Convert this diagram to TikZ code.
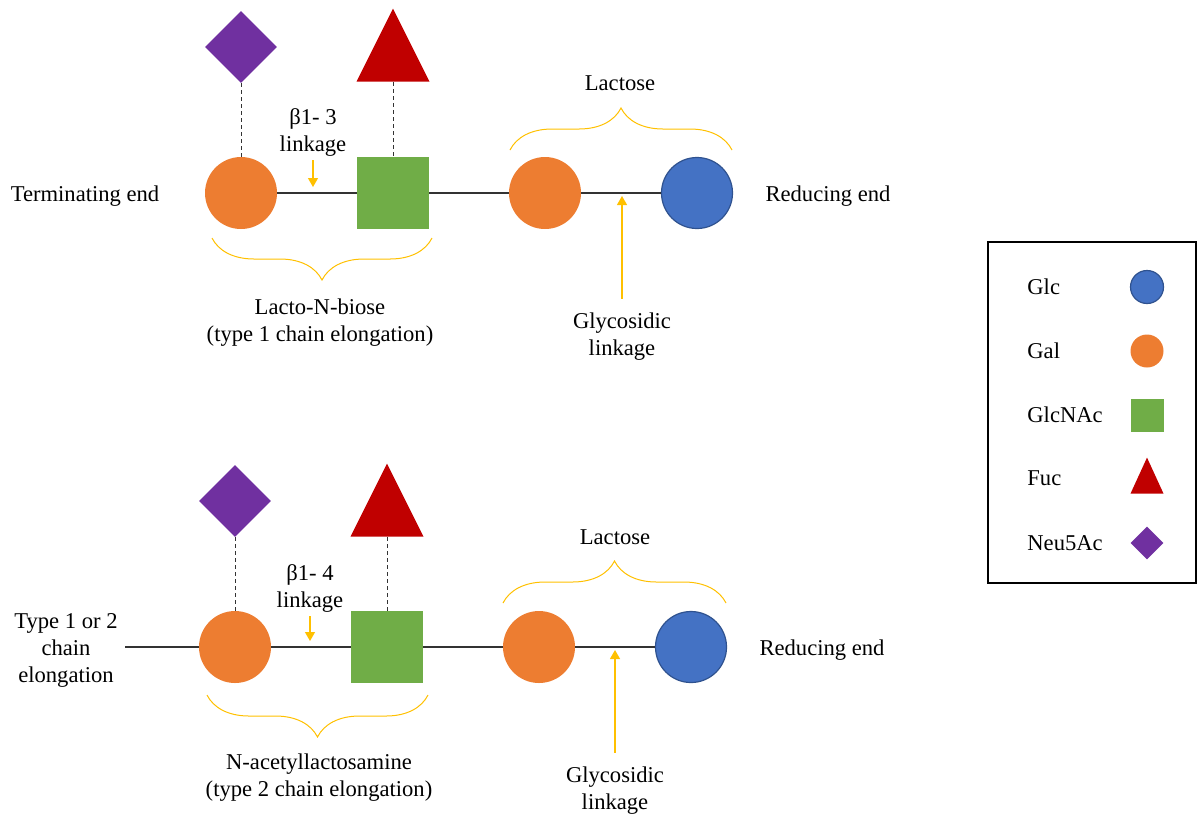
\documentclass[tikz,border=0pt]{standalone}
\usepackage{fontspec}
\setmainfont{Liberation Serif}
\usetikzlibrary{positioning, shapes.geometric, arrows.meta, decorations.pathreplacing}

\definecolor{galorange}{HTML}{ED7D31}
\definecolor{glcblue}{HTML}{4472C4}
\definecolor{glcedge}{HTML}{2F528F}
\definecolor{nacgreen}{HTML}{70AD47}
\definecolor{fucred}{HTML}{C00000}
\definecolor{neupurple}{HTML}{7030A0}
\definecolor{linkyellow}{HTML}{FFC000}

\tikzset{
  gal/.style={circle, fill=galorange, minimum size=36pt, inner sep=0pt},
  glc/.style={circle, fill=glcblue, draw=glcedge, line width=0.6pt, minimum size=35.5pt, inner sep=0pt},
  glcnac/.style={rectangle, fill=nacgreen, minimum size=36pt, inner sep=0pt},
  fuc/.style={isosceles triangle, isosceles triangle stretches, shape border rotate=90,
    fill=fucred, minimum width=36.5pt, minimum height=36.5pt, inner sep=0pt},
  neu/.style={diamond, fill=neupurple, minimum size=36pt, inner sep=0pt},
  key/.style={minimum size=16.5pt},
  bond/.style={draw=black!80, line width=0.6pt},
  subst/.style={draw=black!80, dash pattern=on 2pt off 1.5pt, line width=0.5pt},
  pointer/.style={draw=linkyellow, line width=0.6pt, -{Triangle[width=5pt,length=4.5pt]}},
  curly/.style={draw=linkyellow, line width=0.5pt, decorate, decoration={brace, amplitude=21pt}},
  lbl/.style={align=center, font=\fontsize{11.3}{13.5}\selectfont, inner sep=0pt},
}

\begin{document}
\begin{tikzpicture}[x=0.5pt, y=-0.5pt, node distance=76pt, on grid]
  \useasboundingbox (0,0) rectangle (1198,816);

  % type 1 chain
  \node[gal] (gal1) at (241,193) {};
  \node[glcnac] (nac1) [right=of gal1] {};
  \node[gal] (gal2) [right=of nac1] {};
  \node[glc] (glc1) [right=of gal2] {};
  \node[neu] (neu1) [above=73pt of gal1] {};
  \node[fuc, anchor=lower side] (fuc1) at (393,82) {};
  \path[bond] (gal1) -- (nac1) (nac1) -- (gal2) (gal2) -- (glc1);
  \path[subst] (neu1) -- (gal1) (fuc1.lower side) -- (nac1);

  \node[lbl] (term) at (85,196) {Terminating end};
  \node[lbl] (red1) at (828,196) {Reducing end};
  \node[lbl] (b13) at (313,132) {β1- 3\\linkage};
  \coordinate (b13tip) at (313,187);
  \path[pointer, shorten <=2pt] (b13) -- (b13tip);
  \node[lbl] (glyc1) at (622,337) {Glycosidic\\linkage};
  \coordinate (glytip1) at (622,196);
  \path[pointer, shorten <=7pt] (glyc1) -- (glytip1);

  \draw[curly] (432,238) -- (212,238);
  \node[lbl] (lnb) at (320,323) {Lacto-N-biose\\(type 1 chain elongation)};
  \draw[curly] (510,150) -- (732,150);
  \node[lbl] (lac1) at (620,83) {Lactose};

  % type 2 chain
  \node[gal] (gal3) at (235,647) {};
  \node[glcnac] (nac2) [right=of gal3] {};
  \node[gal] (gal4) [right=of nac2] {};
  \node[glc] (glc2) [right=of gal4] {};
  \node[neu] (neu2) [above=73pt of gal3] {};
  \node[fuc, anchor=lower side] (fuc2) at (387,537) {};
  \coordinate (chainin) at (125,647);
  \path[bond] (chainin) -- (gal3) (gal3) -- (nac2) (nac2) -- (gal4) (gal4) -- (glc2);
  \path[subst] (neu2) -- (gal3) (fuc2.lower side) -- (nac2);

  \node[lbl] (ext) at (66,650) {Type 1 or 2\\chain\\elongation};
  \node[lbl] (red2) at (822,650) {Reducing end};
  \node[lbl] (b14) at (310,588) {β1- 4\\linkage};
  \coordinate (b14tip) at (310,641);
  \path[pointer, shorten <=2pt] (b14) -- (b14tip);
  \node[lbl] (glyc2) at (615,791) {Glycosidic\\linkage};
  \coordinate (glytip2) at (615,650);
  \path[pointer, shorten <=7pt] (glyc2) -- (glytip2);

  \draw[curly] (428,695) -- (207,695);
  \node[lbl] (nal) at (319,778) {N-acetyllactosamine\\(type 2 chain elongation)};
  \draw[curly] (503,603) -- (726,603);
  \node[lbl] (lac2) at (615,537) {Lactose};

  % legend
  \draw[line width=1.2pt] (988,242) rectangle (1196,583);
  \foreach \name/\kind/\ypos/\opt in {Glc/glc/287/{}, Gal/gal/351/{}, GlcNAc/glcnac/415/{},
      Fuc/fuc/478/{minimum height=18pt, yshift=-2.5pt}, Neu5Ac/neu/543/{}} {
    \node[lbl, anchor=west] (key\kind) at (1027,\ypos) {\name};
    \node[\kind, key, /utils/exec={\expandafter\pgfkeysalso\expandafter{\opt}}] (sym\kind) at (1147,\ypos) {};
  }
\end{tikzpicture}
\end{document}
